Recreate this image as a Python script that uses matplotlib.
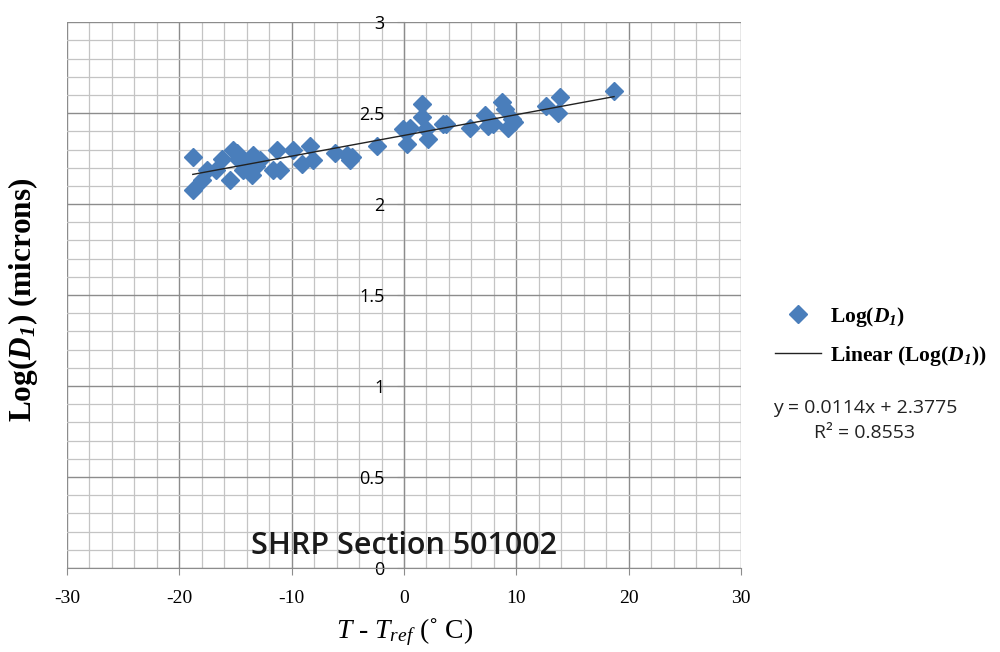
import numpy as np
from matplotlib import pyplot as plt
from matplotlib.ticker import MultipleLocator

plt.rcParams['mathtext.fontset'] = 'custom'
plt.rcParams['mathtext.rm'] = 'Liberation Serif'
plt.rcParams['mathtext.it'] = 'Liberation Serif:italic'
plt.rcParams['mathtext.bf'] = 'Liberation Serif:bold'
plt.rcParams['mathtext.bfit'] = 'Liberation Serif:bold:italic'
plt.rcParams['axes.unicode_minus'] = False

# T - Tref (deg C) and Log(D1)
temp_diff = [-18.8, -18.8, -18.0, -17.5, -16.7, -16.2, -15.5, -15.2, -14.8, -14.3,
             -13.5, -13.4, -14.9, -14.0, -13.2, -12.8, -11.7, -11.3, -11.0, -9.9,
             -9.1, -8.4, -8.1, -6.1, -5.1, -4.8, -4.6, -2.4, -0.1, 0.3,
             0.5, 1.6, 1.6, 2.0, 2.1, 3.5, 3.7, 5.9, 7.2, 7.5,
             8.7, 9.0, 9.3, 9.6, 9.8, 12.6, 13.9, 13.7, 18.7, 7.9]
log_d1 = [2.26, 2.08, 2.13, 2.19, 2.19, 2.25, 2.13, 2.30, 2.25, 2.19,
          2.16, 2.27, 2.28, 2.22, 2.21, 2.24, 2.19, 2.30, 2.19, 2.30,
          2.22, 2.32, 2.24, 2.28, 2.27, 2.24, 2.26, 2.32, 2.41, 2.33,
          2.42, 2.55, 2.48, 2.41, 2.36, 2.44, 2.44, 2.42, 2.49, 2.43,
          2.56, 2.52, 2.42, 2.47, 2.45, 2.54, 2.59, 2.50, 2.62, 2.44]

# linear trend line reported on the chart
slope = 0.0114
intercept = 2.3775
r_squared = 0.8553

fig = plt.figure(figsize=(10, 6.52), dpi=100)
ax = fig.add_axes([0.067, 0.129, 0.674, 0.837])

x_fit = np.array([min(temp_diff), max(temp_diff)])
ax.plot(temp_diff, log_d1, linestyle="none", marker="D", markersize=9,
        color="#4a7ebb", label=r"Log($\mathbfit{D}_{\mathbfit{1}}$)", zorder=3)
ax.plot(x_fit, slope * x_fit + intercept, color="#222222", linewidth=1.0,
        label=r"Linear (Log($\mathbfit{D}_{\mathbfit{1}}$))", zorder=4)

ax.set_xlim(-30, 30)
ax.set_ylim(0, 3)
ax.xaxis.set_major_locator(MultipleLocator(10))
ax.xaxis.set_minor_locator(MultipleLocator(2))
ax.yaxis.set_major_locator(MultipleLocator(0.5))
ax.yaxis.set_minor_locator(MultipleLocator(0.1))
ax.grid(True, which="major", color="#8c8c8c", linewidth=1.0)
ax.grid(True, which="minor", color="#c4c4c4", linewidth=0.9)
ax.set_axisbelow(True)

for s in ["top", "right"]:
    ax.spines[s].set_visible(False)
ax.spines["left"].set_position(("data", 0))
ax.spines["left"].set_color("#8c8c8c")
ax.spines["bottom"].set_color("#8c8c8c")
ax.tick_params(which="major", length=5, color="#8c8c8c")
ax.tick_params(which="minor", length=0)
ax.tick_params(axis="x", pad=11, labelsize=14, labelfontfamily="Liberation Serif")
ax.tick_params(axis="y", pad=9, labelsize=13, labelfontfamily="Open Sans")
ax.get_yaxis().set_major_formatter('{x:g}')

fig.text(0.023, 0.54, r"Log($\mathbfit{D}_{\mathbfit{1}}$) (microns)", rotation=90,
         ha="center", va="center", fontsize=22.5, fontweight="bold",
         family="Liberation Serif")
fig.text(0.405, 0.031, r"$\mathit{T}$ - $\mathit{T}_{\mathit{ref}}$ (˚ C)",
         ha="center", va="center", fontsize=20, family="Liberation Serif")
ax.text(0, 0.12, "SHRP Section 501002", ha="center", va="center",
        fontsize=22, family="Open Sans", fontweight="semibold", color="#1a1a1a")

ax.legend(loc="upper left", bbox_to_anchor=(0.756, 0.562), bbox_transform=fig.transFigure,
          frameon=False, prop={"family": "Liberation Serif", "weight": "bold", "size": 15.5},
          handlelength=2.1, handletextpad=0.45, labelspacing=0.7)

fig.text(0.865, 0.374, "y = 0.0114x + 2.3775", ha="center", va="center",
         fontsize=14, family="Open Sans", color="#222222")
fig.text(0.865, 0.336, "R² = 0.8553", ha="center", va="center",
         fontsize=14, family="Open Sans", color="#222222")

fig.savefig("out.png", dpi=100)
